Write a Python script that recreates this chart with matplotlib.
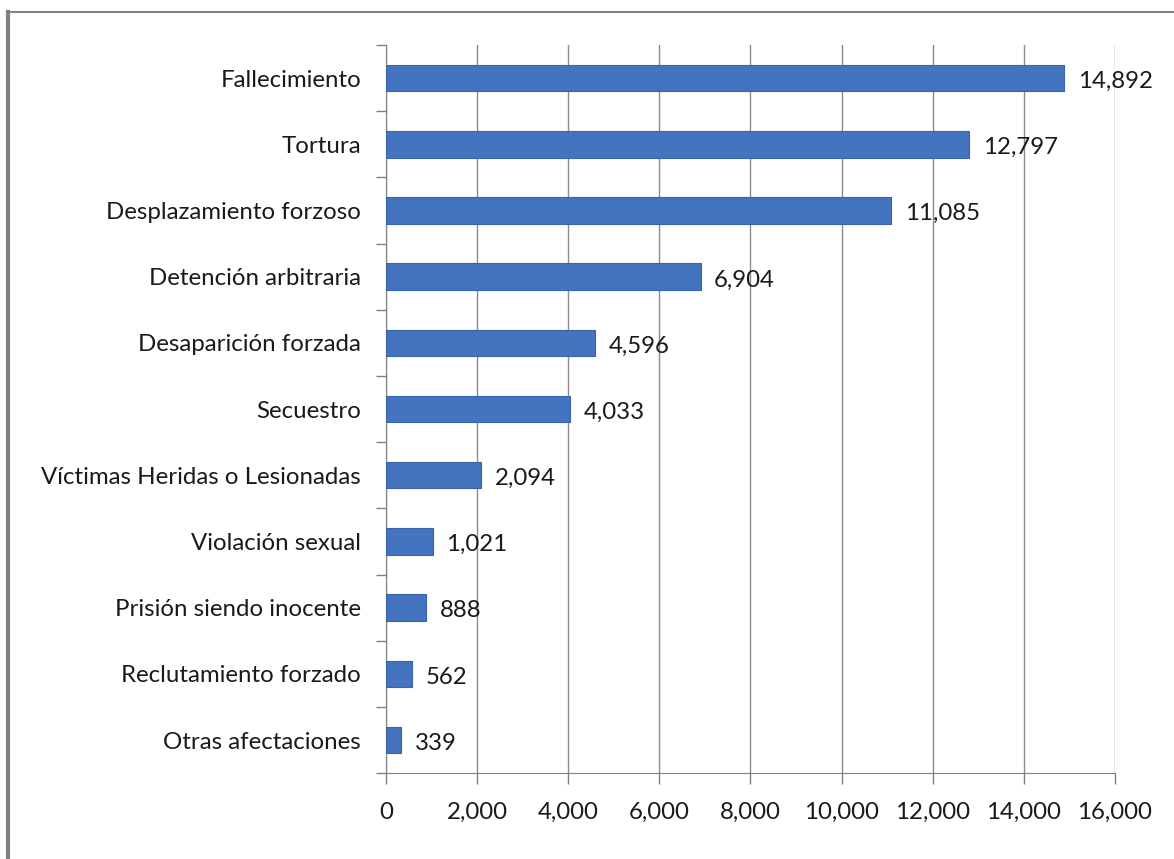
import matplotlib
matplotlib.use('Agg')
import matplotlib.pyplot as plt
from matplotlib.lines import Line2D
from matplotlib.ticker import FuncFormatter, MultipleLocator

# ===== DATOS =====
categorias = ["Fallecimiento", "Tortura", "Desplazamiento forzoso", "Detención arbitraria",
              "Desaparición forzada", "Secuestro", "Víctimas Heridas o Lesionadas",
              "Violación sexual", "Prisión siendo inocente", "Reclutamiento forzado",
              "Otras afectaciones"]
valores = [14892, 12797, 11085, 6904, 4596, 4033, 2094, 1021, 888, 562, 339]
etiquetas = ["14,892", "12,797", "11,085", "6,904", "4,596", "4,033", "2,094",
             "1,021", "888", "562", "339"]

plt.rcParams['font.family'] = ['Lato', 'DejaVu Sans']
FS = 17.3

fig = plt.figure(figsize=(11.74, 8.59), dpi=100)
ax = fig.add_axes([0.3288, 0.100, 0.6209, 0.8476])

pos = list(range(len(categorias)))
ax.barh(pos, valores, height=0.4, color='#4474C0', edgecolor='#3764AC', linewidth=0.8, zorder=3)

for p, v, t in zip(pos, valores, etiquetas):
    ax.text(v + 300, p + 0.05, t, va='center', ha='left', fontsize=FS, color='#1a1a1a', zorder=4)

ax.set_xlim(0, 16000)
ax.set_ylim(len(categorias) - 0.5, -0.5)
ax.xaxis.set_major_locator(MultipleLocator(2000))
ax.xaxis.set_major_formatter(FuncFormatter(lambda x, _: f"{int(x):,}"))

ax.set_yticks(pos)
ax.set_yticklabels(categorias, fontsize=FS, color='#1a1a1a')
ax.set_yticks([p + 0.5 for p in [-1] + pos], minor=True)
ax.tick_params(axis='y', which='major', length=0, pad=18)
ax.tick_params(axis='y', which='minor', length=7, color='#808080', width=1)
ax.tick_params(axis='x', length=8, color='#808080', width=1, pad=13, labelsize=FS,
               labelcolor='#1a1a1a')

ax.grid(axis='x', color='#8c8c8c', linewidth=1, zorder=0)
for s in ['top', 'right']:
    ax.spines[s].set_visible(False)
ax.spines['left'].set_color('#808080')
ax.spines['bottom'].set_color('#808080')

# borde del grafico (solo arriba e izquierda)
fig.add_artist(Line2D([8/1174, 8/1174], [0, 1 - 12/859], transform=fig.transFigure,
                      color='#808080', linewidth=3))
fig.add_artist(Line2D([8/1174, 1], [1 - 12/859, 1 - 12/859], transform=fig.transFigure,
                      color='#808080', linewidth=1.5))

fig.savefig('out.png', dpi=100)
